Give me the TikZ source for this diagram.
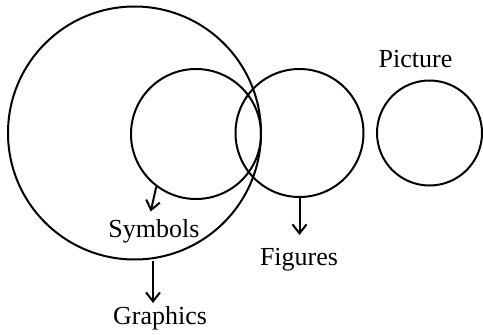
\documentclass[tikz,border=0pt]{standalone}
\usepackage{fontspec}
\setmainfont{Liberation Serif}
\usetikzlibrary{arrows.meta}
\tikzset{
  ring/.style={circle, draw, line width=2pt, inner sep=0pt},
  lbl/.style={anchor=base, inner sep=0pt, font=\fontsize{26}{30}\selectfont},
  arr/.style={line width=2pt, -{Straight Barb[length=9pt,width=14pt,line width=2pt]}}
}
\begin{document}
\begin{tikzpicture}[x=1pt,y=-1pt]
\useasboundingbox (0,0) rectangle (483,335);
\node[ring, minimum size=253pt] (big) at (134.5,133) {};
\node[ring, minimum size=130pt] (sym) at (196,134) {};
\node[ring, minimum size=128pt] (fig) at (299.5,133) {};
\node[ring, minimum size=105pt] (pic) at (429.5,133) {};
\node[lbl] (tsym) at (154,237) {Symbols};
\node[lbl] (tfig) at (299,265) {Figures};
\node[lbl] (tgra) at (160,324) {Graphics};
\node[lbl] (tpic) at (415.5,67) {Picture};
\coordinate (esym) at (150.7,211.5);
\coordinate (efig) at (299.5,235);
\coordinate (egra) at (153,303);
\draw[arr] (sym.-127) -- (esym);
\draw[arr] (fig.south) -- (efig);
\draw[arr] (egra |- big.south) -- (egra);
\end{tikzpicture}
\end{document}
